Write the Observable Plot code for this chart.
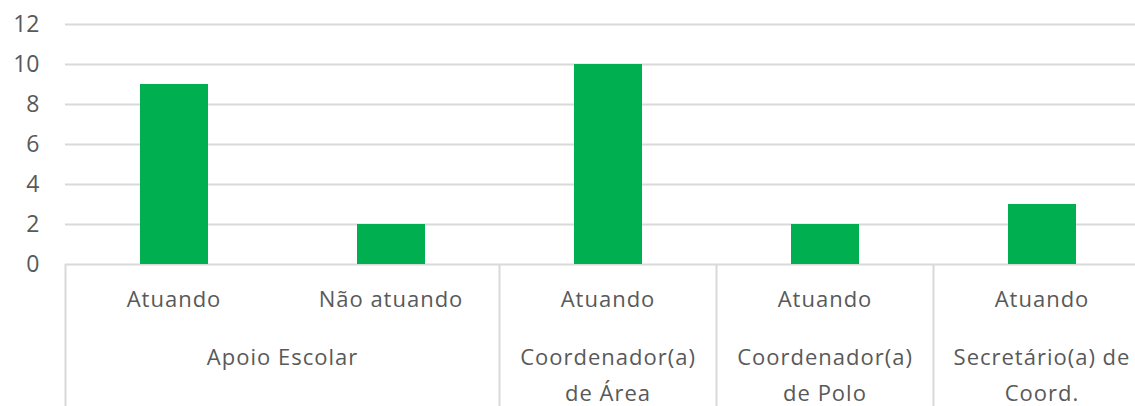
<!DOCTYPE html>
<html>
<head>
<meta charset="utf-8">
<script src="https://cdn.jsdelivr.net/npm/d3@7"></script>
<script src="https://cdn.jsdelivr.net/npm/@observablehq/plot@0.6"></script>
<style>
  html, body { margin: 0; padding: 0; background: #fff; overflow: hidden; width: 1135px; height: 406px; }
  #chart svg { display: block; max-width: none !important; }
</style>
</head>
<body>
<div id="chart"></div>
<script>
// ---- data ----
const groups = ["Apoio Escolar", "Apoio Escolar", "Coordenador(a)\nde Área", "Coordenador(a)\nde Polo", "Secretário(a) de\nCoord."];
const statuses = ["Atuando", "Não atuando", "Atuando", "Atuando", "Atuando"];
const values = [9, 2, 10, 2, 3];
const yTicks = [0, 2, 4, 6, 8, 10, 12];

// ---- tables built from the arrays ----
const bars = values.map((v, i) => ({i, status: statuses[i], group: groups[i], value: v}));
const groupSpans = [];
groups.forEach((g, i) => {
  const last = groupSpans[groupSpans.length - 1];
  if (last && last.group === g) last.end = i + 1;
  else groupSpans.push({group: g, start: i, end: i + 1});
});
const separators = groupSpans.map(s => s.start);

const textColor = "#595959";
const font = "'Open Sans', sans-serif";
const fs = 22;

const chart = Plot.plot({
  width: 1150,
  height: 406,
  marginLeft: 65,
  marginRight: 0,
  marginTop: 24,
  marginBottom: 142,
  style: {fontFamily: font, fontSize: fs + "px", color: textColor, background: "#fff", overflow: "visible", maxWidth: "none"},
  x: {type: "linear", domain: [0, bars.length], axis: null},
  y: {domain: [0, 12], ticks: yTicks},
  marks: [
    Plot.gridY(yTicks, {stroke: "#d9d9d9", strokeOpacity: 1, strokeWidth: 2}),
    Plot.axisY(yTicks, {tickSize: 0, tickPadding: 26, fill: textColor, fontSize: 23, fontFamily: font, label: null}),
    Plot.rectY(bars, {x1: "i", x2: d => d.i + 1, y: "value", fill: "#00B050", insetLeft: 75, insetRight: 74}),
    Plot.ruleX(separators, {x: d => d, y1: 0, y2: 0, insetBottom: -150, stroke: "#d9d9d9", strokeWidth: 2}),
    Plot.text(bars, {x: d => d.i + 0.5, text: "status", frameAnchor: "bottom", lineAnchor: "top", dy: 27, fill: textColor, fontSize: fs, fontFamily: font}),
    Plot.text(groupSpans, {x: d => (d.start + d.end) / 2, text: "group", frameAnchor: "bottom", lineAnchor: "top", dy: 75, lineHeight: 36 / fs, fill: textColor, fontSize: fs, fontFamily: font})
  ]
});
chart.querySelectorAll("text").forEach(t => { if (!/^\d+$/.test(t.textContent)) t.style.letterSpacing = "1px"; });
document.getElementById("chart").appendChild(chart);
</script>
</body>
</html>
